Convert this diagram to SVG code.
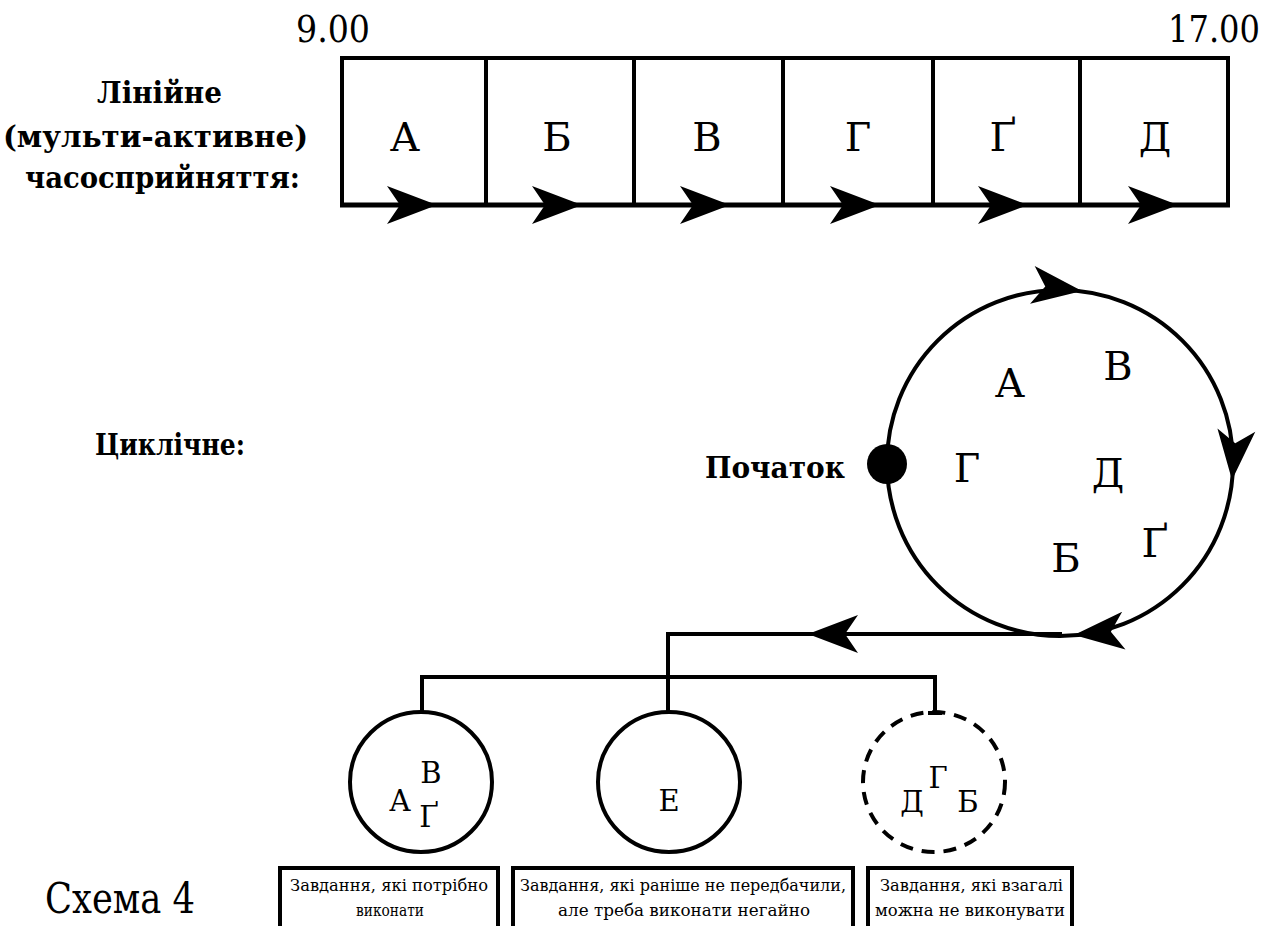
<svg xmlns="http://www.w3.org/2000/svg" width="1275" height="926" viewBox="0 0 1275 926">
<style>
text{font-family:"DejaVu Serif",serif;fill:#000}
.b{font-weight:bold}
.ln{fill:none;stroke:#000;stroke-width:4}
.bx{fill:#fff;stroke:#000;stroke-width:4}
.s{font-size:17px}
</style>
<defs>
<path id="ah" d="M0,0 L-50,-19 L-37,0 L-50,19 Z" fill="#000"/>
</defs>
<rect width="1275" height="926" fill="#fff"/>

<g id="labels">
<text class="b" x="97" y="103" font-size="30" textLength="125" lengthAdjust="spacingAndGlyphs">Лінійне</text>
<text class="b" x="3" y="147" font-size="30" textLength="305" lengthAdjust="spacingAndGlyphs">(мульти-активне)</text>
<text class="b" x="25" y="188" font-size="30" textLength="275" lengthAdjust="spacingAndGlyphs">часосприйняття:</text>
<text class="b" x="95" y="455" font-size="30" textLength="150" lengthAdjust="spacingAndGlyphs">Циклічне:</text>
<text x="296" y="42" font-size="38" textLength="74" lengthAdjust="spacingAndGlyphs">9.00</text>
<text x="1168" y="42" font-size="38" textLength="92" lengthAdjust="spacingAndGlyphs">17.00</text>
<text x="45" y="913" font-size="42" textLength="150" lengthAdjust="spacingAndGlyphs">Схема 4</text>
</g>

<g id="linear">
<rect class="ln" x="342" y="58" width="886" height="147"/>
<path class="ln" d="M486,58V205M634,58V205M783,58V205M933,58V205M1080,58V205"/>
<line x1="340" y1="205" x2="1230" y2="205" stroke="#000" stroke-width="5"/>
<g font-size="40" text-anchor="middle">
<text x="405" y="151">А</text>
<text x="557" y="151">Б</text>
<text x="707" y="151">В</text>
<text x="858" y="151">Г</text>
<text x="1003" y="151">Ґ</text>
<text x="1155" y="151">Д</text>
</g>
<use href="#ah" transform="translate(437,205)"/>
<use href="#ah" transform="translate(582,205)"/>
<use href="#ah" transform="translate(730,205)"/>
<use href="#ah" transform="translate(880,205)"/>
<use href="#ah" transform="translate(1028,205)"/>
<use href="#ah" transform="translate(1178,205)"/>
</g>

<g id="cycle">
<circle class="ln" cx="1060" cy="463" r="173"/>
<circle cx="887" cy="464" r="20" fill="#000"/>
<text class="b" x="705" y="478" font-size="30" textLength="140" lengthAdjust="spacingAndGlyphs">Початок</text>
<g font-size="40" text-anchor="middle">
<text x="1010" y="397">А</text>
<text x="1118" y="380">В</text>
<text x="967" y="482">Г</text>
<text x="1108" y="487">Д</text>
<text x="1066" y="572">Б</text>
<text x="1155" y="557">Ґ</text>
</g>
<use href="#ah" transform="translate(1082,291) rotate(7)"/>
<use href="#ah" transform="translate(1232,480) rotate(95)"/>
<use href="#ah" transform="translate(1074,635) rotate(175)"/>
</g>

<g id="connectors">
<path class="ln" d="M1062,634 H668 V713"/>
<path class="ln" d="M422,713 V677 H935 V713 M928,713 H942"/>
<use href="#ah" transform="translate(808,634) rotate(180)"/>
</g>

<g id="group-a">
<ellipse class="ln" cx="421" cy="782" rx="71" ry="70"/>
<g font-size="29" text-anchor="middle">
<text x="400" y="811">А</text>
<text x="431" y="783">В</text>
<text x="429" y="827">Ґ</text>
</g>
</g>
<g id="group-e">
<ellipse class="ln" cx="669" cy="782" rx="71" ry="70"/>
<text x="669" y="811" font-size="29" text-anchor="middle">Е</text>
</g>
<g id="group-d">
<ellipse class="ln" cx="934" cy="782" rx="71" ry="70" stroke-dasharray="13,9"/>
<g font-size="29" text-anchor="middle">
<text x="938" y="788">Г</text>
<text x="912" y="812">Д</text>
<text x="968" y="812">Б</text>
</g>
</g>

<g id="box1">
<rect class="bx" x="280" y="868" width="218" height="70"/>
<text class="s" x="290" y="891" textLength="198" lengthAdjust="spacingAndGlyphs">Завдання, які потрібно</text>
<text class="s" x="356" y="916" textLength="68" lengthAdjust="spacingAndGlyphs">виконати</text>
</g>
<g id="box2">
<rect class="bx" x="513" y="868" width="340" height="70"/>
<text class="s" x="520" y="891" textLength="326" lengthAdjust="spacingAndGlyphs">Завдання, які раніше не передбачили,</text>
<text class="s" x="558" y="916" textLength="252" lengthAdjust="spacingAndGlyphs">але треба виконати негайно</text>
</g>
<g id="box3">
<rect class="bx" x="868" y="868" width="204" height="70"/>
<text class="s" x="880" y="891" textLength="183" lengthAdjust="spacingAndGlyphs">Завдання, які взагалі</text>
<text class="s" x="875" y="916" textLength="190" lengthAdjust="spacingAndGlyphs">можна не виконувати</text>
</g>
</svg>
